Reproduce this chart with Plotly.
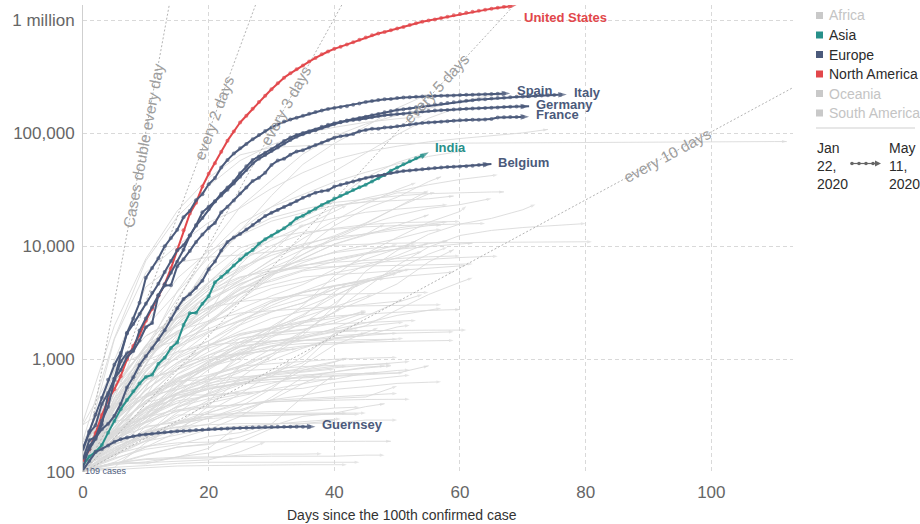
import math
import plotly.graph_objects as go

# ---------------- highlighted countries: daily cumulative confirmed cases ----------------
# index = days since the 100th confirmed case
united_states = [124, 158, 221, 319, 435, 541, 704, 994, 1301, 1630, 2183, 2770, 3613, 4596, 6344, 9197,
                 13779, 19367, 24192, 33592, 43505, 53938, 68211, 85570, 102900, 123966, 142191, 163893,
                 188172, 213372, 243616, 275366, 308853, 337072, 366667, 396223, 429052, 461437, 496535,
                 526396, 555313, 580619, 607670, 636350, 667592, 699706, 732197, 759086, 784326, 811865,
                 840351, 869170, 905358, 938154, 965785, 988197, 1012582, 1039909, 1069424, 1103461,
                 1132539, 1158040, 1180375, 1204351, 1229331, 1257023, 1283929, 1309550, 1329260, 1347881]
spain = [165, 222, 259, 400, 500, 673, 1073, 1695, 2277, 3146, 5232, 6391, 7798, 9942, 11748, 13910, 17963,
         20410, 25374, 28768, 35136, 39885, 49515, 57786, 65719, 73235, 80110, 87956, 95923, 104118, 112065,
         119199, 126168, 131646, 136675, 141942, 148220, 153222, 158273, 163027, 166831, 170099, 172541,
         177644, 182816, 188068, 191726, 195944, 198674, 200210, 204178, 205905, 207634, 209465, 210773,
         211500, 212917, 213435, 213900, 215216, 216582, 217466, 218011, 219329, 220325, 221447, 222857,
         223578, 224350]
italy = [155, 229, 322, 453, 655, 888, 1128, 1694, 2036, 2502, 3089, 3858, 4636, 5883, 7375, 9172, 10149,
         12462, 15113, 17660, 21157, 24747, 27980, 31506, 35713, 41035, 47021, 53578, 59138, 63927, 69176,
         74386, 80589, 86498, 92472, 97689, 101739, 105792, 110574, 115242, 119827, 124632, 128948, 132547,
         135586, 139422, 143626, 147577, 152271, 156363, 159516, 162488, 165155, 168941, 172434, 175925,
         178972, 181228, 183957, 187327, 189973, 192994, 195351, 197675, 199414, 201505, 203591, 205463,
         207428, 209328, 210717, 211938, 213013, 214457, 215858, 217185, 218268, 219070]
germany = [130, 159, 196, 262, 482, 670, 799, 1040, 1176, 1457, 1908, 2078, 3675, 4585, 5795, 7272, 9257,
           12327, 15320, 19848, 22213, 24873, 29056, 32986, 37323, 43938, 50871, 57695, 62095, 66885, 71808,
           77872, 84794, 91159, 96092, 100123, 103374, 107663, 113296, 118181, 122171, 124908, 127854,
           130072, 131359, 134753, 137698, 141397, 143342, 145184, 147065, 148291, 150648, 153129, 154999,
           156513, 157770, 158758, 159912, 161539, 163009, 164077, 164967, 165664, 166152, 167007, 168162,
           169430, 170588, 171324, 171879, 172576]
france = [130, 191, 204, 285, 377, 653, 949, 1126, 1209, 1784, 2281, 2876, 3661, 4469, 4499, 6633, 7652,
          9043, 10871, 12612, 14459, 16018, 19856, 22302, 25233, 29155, 32964, 37575, 40174, 44550, 52128,
          56989, 59105, 64338, 68605, 70478, 74390, 78167, 82048, 86334, 90676, 93790, 95403, 98076, 103573,
          106206, 108847, 109252, 111821, 112606, 114657, 117324, 119151, 120804, 122577, 124114, 124575,
          125770, 126835, 128339, 129581, 130185, 130979, 131287, 131863, 132967, 137150, 137779, 138421,
          138854, 139063, 139519]
india = [114, 137, 151, 173, 223, 283, 360, 433, 519, 606, 694, 724, 909, 1024, 1251, 1397, 1998, 2543,
         2567, 3082, 3588, 4778, 5311, 5916, 6725, 7598, 8446, 9205, 10453, 11487, 12322, 13430, 14352,
         15722, 17615, 18539, 20080, 21370, 23077, 24530, 26283, 27890, 29451, 31324, 33062, 34863, 37257,
         39699, 42505, 46437, 49400, 52987, 56351, 59695, 62808, 67161]
belgium = [109, 169, 200, 239, 267, 314, 399, 559, 689, 886, 1058, 1243, 1486, 1795, 2257, 2815, 3401, 3743,
           4269, 4937, 6235, 7284, 9134, 10836, 11899, 12775, 13964, 15348, 16770, 18431, 19691, 20814,
           22194, 23403, 24983, 26667, 28018, 29647, 30589, 31119, 33573, 34809, 36138, 37183, 38496, 39983,
           40956, 41889, 42797, 44293, 45325, 46134, 46687, 47334, 47859, 48519, 49032, 49517, 49906, 50267,
           50509, 50781, 51420, 52011, 52596, 53081]
guernsey = [104, 125, 150, 160, 172, 185, 195, 202, 207, 212, 215, 218, 222, 225, 227, 229, 231, 233, 235,
            237, 239, 240, 242, 243, 244, 245, 246, 248, 249, 250, 250, 251, 251, 252, 252, 252, 252, 252]

highlight_names = ["United States", "Spain", "Italy", "Germany", "France", "India", "Belgium", "Guernsey"]
highlight_series = [united_states, spain, italy, germany, france, india, belgium, guernsey]
highlight_region = ["North America", "Europe", "Europe", "Europe", "Europe", "Asia", "Europe", "Europe"]

# ---------------- other countries (grey): values every 5 days, last value at the last day ----------------
other_names = [
    "China", "Iran", "United Kingdom", "Russia", "Turkey", "Brazil", "Canada", "Peru", "Mexico", "Chile",
    "Saudi Arabia", "Netherlands", "Switzerland", "Sweden", "Austria", "Portugal", "Norway", "Denmark",
    "South Korea", "Japan", "Singapore", "Qatar", "Pakistan", "Belarus", "Ecuador", "Israel", "Ireland",
    "Poland", "Romania", "United Arab Emirates", "Indonesia", "Philippines", "Czechia", "Bangladesh",
    "Colombia", "South Africa", "Egypt", "Kuwait", "Serbia", "Ukraine", "Dominican Republic", "Panama",
    "Finland", "Argentina", "Luxembourg", "Greece", "Iceland", "Algeria", "Morocco", "Croatia", "Estonia",
    "Slovenia", "Lebanon", "Bahrain", "Thailand", "Malaysia", "Australia", "New Zealand", "Hungary",
    "Armenia", "Kazakhstan", "Moldova", "Afghanistan", "Oman", "Ghana", "Nigeria", "Cameroon", "Cuba",
    "Bolivia", "Honduras", "Bosnia and Herzegovina", "North Macedonia", "Bulgaria", "Lithuania", "Latvia",
    "Tunisia", "Costa Rica", "Uruguay", "Jordan", "Sri Lanka", "Vietnam", "Cyprus", "Albania", "Kyrgyzstan",
    "Senegal", "Cote d'Ivoire", "Kenya", "Iraq", "Georgia", "Guatemala", "Paraguay", "Andorra", "San Marino",
    "Faeroe Islands", "Jersey", "Isle of Man", "Gibraltar", "Taiwan", "Brunei", "Cambodia", "Mauritius",
    "Jamaica", "Trinidad and Tobago", "Malta", "Montenegro", "Azerbaijan", "Uzbekistan", "Burkina Faso",
    "Guinea", "Democratic Republic of Congo", "Djibouti", "Tanzania", "Sudan", "Mali", "Niger", "Venezuela",
    "El Salvador", "Haiti", "Somalia", "Kosovo", "Palestine", "Madagascar", "Ethiopia", "Gabon", "Rwanda",
    "Liberia", "Sierra Leone",
]
other_last_day = [
    112, 74, 67, 55, 54, 59, 61, 55, 53, 56,
    57, 66, 67, 65, 64, 59, 66, 62,
    81, 80, 72, 61, 55, 42, 55, 60, 58,
    58, 57, 55, 57, 58, 60, 35,
    53, 55, 58, 59, 53, 48, 50, 54,
    59, 52, 55, 60, 61, 50, 51, 53, 59,
    59, 55, 62, 57, 61, 62, 50, 51,
    54, 46, 48, 44, 46, 44, 42, 45, 44,
    41, 44, 51, 50, 52, 51, 52,
    50, 52, 52, 50, 48, 50, 49, 49, 42,
    47, 45, 38, 57, 40, 30, 40, 51, 57,
    49, 41, 42, 38, 52, 48, 44, 45,
    27, 42, 50, 44, 45, 45, 47,
    37, 42, 34, 25, 18, 33, 40, 48,
    33, 12, 24, 42, 44, 29, 24, 25, 40,
    24, 17,
]
other_values = [
    [278, 1975, 7711, 20438, 40171, 64000, 74576, 77262, 79394, 80565, 80904, 81048, 81250, 81661, 82122, 82543, 82883, 83213, 83805, 83884, 83944, 83966, 83990, 84011],
    [139, 1501, 5823, 10075, 16169, 21638, 32332, 44605, 58226, 68192, 76389, 83505, 89328, 94640, 100245, 107603],
    [116, 373, 1144, 3983, 9529, 22141, 38168, 65077, 93873, 120067, 143464, 165221, 190584, 215260, 223060],
    [114, 367, 1036, 2777, 6343, 13584, 27938, 52763, 80949, 114431, 165929, 221344],
    [191, 1529, 7402, 18135, 34109, 56956, 78546, 98674, 112261, 124375, 133721, 139771],
    [151, 621, 1924, 3904, 7910, 13717, 22169, 33682, 45757, 66501, 96559, 135106, 162699],
    [103, 424, 1302, 3409, 8527, 15756, 22148, 28379, 36831, 44919, 53236, 62046, 68848, 70091],
    [117, 363, 635, 1323, 2561, 6848, 12491, 17837, 25331, 40459, 54817, 67307],
    [118, 405, 993, 1688, 3181, 5014, 7497, 11633, 16752, 23471, 31522, 36327],
    [156, 537, 1306, 2738, 4471, 6501, 8273, 10088, 12306, 16023, 22016, 28866, 30063],
    [103, 274, 767, 1453, 2179, 3287, 5369, 9362, 15102, 21402, 27011, 37136, 41014],
    [128, 503, 1135, 2460, 4749, 8603, 12595, 16627, 21762, 26551, 30449, 34842, 38802, 41774, 42627],
    [114, 491, 1139, 2650, 6863, 12928, 17768, 21100, 24308, 25936, 27740, 29061, 29705, 30060, 30126],
    [137, 500, 961, 1279, 2046, 3447, 5568, 8419, 11445, 15322, 18640, 21520, 23216, 26322],
    [104, 504, 1018, 3024, 5888, 9618, 11781, 13244, 14041, 14795, 15148, 15452, 15621, 15833],
    [112, 448, 2060, 5170, 9034, 12442, 16585, 19685, 22797, 24505, 25282, 26182, 27679],
    [108, 598, 1256, 1742, 2621, 4284, 4863, 6010, 6525, 7113, 7338, 7660, 7904, 8099, 8106],
    [264, 827, 1151, 1724, 2860, 4077, 5635, 6681, 7695, 8698, 9356, 9938, 10429, 10591],
    [104, 977, 4335, 7134, 7979, 8320, 8897, 9661, 10156, 10450, 10591, 10683, 10752, 10780, 10822, 10840, 10874, 10909],
    [105, 186, 284, 488, 716, 839, 1101, 1724, 2617, 4257, 6748, 9787, 12388, 13736, 14571, 15253, 15798],
    [102, 130, 166, 226, 385, 683, 1049, 1623, 2918, 5992, 9125, 12693, 15641, 17548, 20939, 23336],
    [262, 401, 470, 537, 693, 949, 1832, 2979, 5448, 8525, 11921, 16191, 20201, 22520],
    [183, 646, 1201, 2039, 3766, 5230, 6383, 8418, 11940, 15759, 22049, 30941],
    [152, 562, 1066, 2919, 4779, 8022, 11289, 14917, 20168, 22973],
    [111, 789, 1595, 2302, 3747, 4965, 7603, 10128, 22719, 24675, 29538, 29559],
    [109, 298, 883, 2369, 4695, 7428, 10095, 12758, 14326, 15443, 16101, 16317, 16506],
    [129, 557, 1329, 2615, 4273, 6074, 9655, 15251, 17607, 19877, 21176, 22541, 23135],
    [103, 355, 901, 2055, 3383, 4848, 6934, 9287, 11273, 12877, 14431, 15651, 16326],
    [123, 308, 906, 2460, 4057, 6300, 8746, 10417, 11978, 12732, 13837, 15131, 15362],
    [113, 198, 468, 1264, 2076, 3736, 5825, 7755, 10349, 12481, 15192, 18878],
    [117, 450, 1046, 1677, 2491, 3842, 5516, 7135, 8882, 10118, 11587, 13645, 14032],
    [111, 230, 552, 1546, 3246, 4648, 5878, 6710, 7579, 8488, 9485, 10463, 11086],
    [116, 396, 1120, 2279, 3308, 4591, 5902, 6787, 7187, 7504, 7737, 8031, 8176],
    [123, 330, 1012, 2144, 3772, 5913, 8790, 15691],
    [102, 378, 702, 1161, 2054, 2776, 3621, 4561, 6207, 7668, 9456, 11063],
    [116, 402, 1187, 1462, 1845, 2415, 3158, 3953, 4996, 6783, 8232, 10652],
    [109, 210, 327, 576, 865, 1322, 1939, 2844, 3659, 4782, 6193, 8476, 9746],
    [100, 142, 191, 266, 417, 855, 1234, 1751, 2614, 3440, 4619, 7208, 9286],
    [103, 303, 785, 1624, 2666, 4465, 6318, 7483, 8724, 9464, 9943, 10243],
    [113, 356, 1072, 1668, 2511, 4161, 5710, 7647, 10406, 12697, 15648],
    [112, 581, 1284, 1956, 2759, 3755, 5044, 6135, 7288, 8480, 10347],
    [109, 313, 786, 1475, 2100, 3234, 4210, 4821, 5779, 6532, 7868, 8944],
    [155, 319, 700, 1041, 1446, 2176, 2974, 3868, 4395, 4906, 5327, 5673, 5880],
    [128, 387, 820, 1265, 1715, 2208, 2839, 3435, 4127, 4783, 5776, 6278],
    [140, 798, 1605, 2319, 2843, 3223, 3444, 3665, 3741, 3802, 3859, 3886],
    [117, 331, 464, 821, 1156, 1613, 1884, 2170, 2401, 2506, 2612, 2691, 2744],
    [103, 180, 409, 737, 1086, 1417, 1616, 1711, 1773, 1789, 1797, 1799, 1802, 1802],
    [139, 367, 716, 1320, 1761, 2160, 2629, 3127, 4154, 4838, 5723],
    [115, 275, 654, 1120, 1448, 2024, 3209, 3897, 4423, 5053, 5910, 6063],
    [105, 315, 713, 1011, 1343, 1650, 1832, 1981, 2047, 2096, 2146, 2196],
    [115, 267, 404, 645, 858, 1108, 1309, 1459, 1605, 1666, 1699, 1733, 1739],
    [141, 286, 480, 684, 897, 1091, 1205, 1304, 1360, 1408, 1434, 1450, 1460],
    [120, 248, 412, 479, 548, 618, 658, 682, 707, 725, 750, 870],
    [109, 210, 279, 377, 499, 643, 756, 925, 1671, 1973, 2723, 3720, 4774, 5236],
    [114, 411, 1136, 1771, 2169, 2551, 2672, 2792, 2907, 2954, 2992, 3015, 3017],
    [149, 553, 1306, 2031, 2908, 3793, 4530, 5305, 5603, 5780, 6071, 6383, 6656, 6726],
    [107, 298, 1071, 2364, 4093, 5330, 6010, 6400, 6565, 6667, 6746, 6849, 6929, 6941],
    [102, 451, 868, 1160, 1330, 1401, 1445, 1461, 1474, 1487, 1497],
    [103, 300, 525, 895, 1310, 1763, 2284, 2649, 2863, 3035, 3263, 3284],
    [115, 235, 424, 663, 853, 1013, 1291, 1523, 1867, 2386, 3175, 3718],
    [111, 302, 662, 802, 1295, 1995, 2601, 3138, 4422, 4975, 5126],
    [125, 298, 591, 1056, 1712, 2472, 3304, 3897, 4476, 4867, 5154],
    [110, 237, 423, 665, 933, 1279, 1828, 2469, 3563, 4687],
    [109, 192, 298, 546, 910, 1410, 1905, 2348, 2903, 3573, 3721],
    [141, 204, 313, 566, 641, 1042, 1550, 2074, 3091, 4700],
    [111, 232, 305, 407, 627, 1095, 1728, 2388, 3912, 4641],
    [139, 306, 650, 803, 1017, 1518, 1705, 1832, 2077, 2579],
    [119, 212, 457, 669, 862, 1137, 1437, 1537, 1729, 1783],
    [107, 183, 300, 493, 807, 1167, 1594, 2081, 2556, 2831],
    [110, 222, 312, 426, 472, 591, 702, 1055, 1685, 2080],
    [104, 248, 533, 858, 1083, 1300, 1421, 1565, 1757, 1950, 2089, 2117],
    [114, 241, 430, 570, 854, 1207, 1367, 1465, 1539, 1622, 1694],
    [127, 220, 359, 503, 635, 800, 975, 1247, 1506, 1618, 1921, 1990],
    [105, 274, 537, 811, 1026, 1128, 1298, 1370, 1398, 1438, 1505, 1523],
    [111, 221, 376, 493, 577, 661, 739, 778, 836, 879, 930, 950],
    [114, 312, 455, 623, 726, 866, 909, 949, 994, 1018, 1032],
    [113, 201, 347, 454, 539, 618, 662, 693, 713, 742, 792, 801],
    [110, 217, 338, 406, 473, 502, 528, 550, 620, 656, 707, 719],
    [112, 235, 274, 345, 372, 397, 417, 435, 449, 461, 576],
    [102, 122, 166, 197, 238, 310, 460, 690, 771, 847, 869],
    [113, 163, 222, 251, 262, 268, 268, 270, 271, 288, 288],
    [116, 230, 356, 494, 662, 784, 817, 857, 878, 898, 905],
    [104, 197, 277, 377, 446, 518, 609, 712, 773, 832, 872],
    [107, 216, 298, 449, 612, 682, 746, 830, 949, 1016],
    [105, 175, 226, 265, 299, 377, 545, 882, 1329, 1709, 1886],
    [101, 190, 323, 533, 688, 878, 1111, 1275, 1516, 1700],
    [122, 179, 197, 234, 303, 355, 435, 607, 715],
    [110, 192, 316, 630, 961, 1279, 1415, 1602, 1820, 2085, 2431, 2679, 2818],
    [110, 188, 272, 348, 408, 470, 539, 604, 677],
    [126, 180, 257, 385, 599, 763, 1052],
    [104, 133, 159, 174, 206, 223, 266, 462, 724],
    [113, 224, 370, 501, 583, 646, 696, 723, 738, 748, 754, 754],
    [101, 144, 208, 236, 266, 344, 435, 476, 538, 569, 608, 623, 628],
    [118, 144, 169, 181, 184, 185, 185, 187, 187, 187, 187],
    [100, 155, 187, 214, 243, 255, 264, 279, 293, 295],
    [114, 150, 218, 270, 297, 309, 316, 321, 330, 331],
    [103, 120, 129, 132, 133, 141, 144, 144, 145],
    [108, 235, 306, 355, 382, 393, 420, 427, 429, 438, 440, 440],
    [104, 120, 131, 135, 136, 138, 138, 138, 138, 141, 141],
    [103, 110, 114, 119, 122, 122, 122, 122, 122, 122],
    [102, 154, 227, 319, 324, 328, 331, 332, 332, 332],
    [105, 173, 233, 305, 432, 490, 502],
    [103, 105, 109, 113, 114, 115, 116, 116, 116, 116],
    [107, 139, 188, 241, 337, 393, 431, 448, 464, 484, 496],
    [104, 201, 248, 283, 311, 315, 322, 324, 324, 324],
    [122, 298, 584, 926, 1253, 1518, 1678, 1804, 2204, 2693],
    [104, 227, 457, 815, 1302, 1678, 1904, 2086, 2298, 2612],
    [114, 222, 364, 443, 542, 600, 629, 645, 662, 751, 751],
    [111, 212, 363, 579, 954, 1351, 1710, 2146, 2298],
    [109, 161, 223, 267, 332, 416, 572, 797, 937, 1024],
    [121, 187, 363, 732, 986, 1112, 1189, 1227],
    [147, 284, 299, 480, 480, 509],
    [140, 275, 592, 930, 1164],
    [105, 148, 216, 370, 490, 612, 692, 704],
    [120, 253, 491, 639, 657, 696, 719, 763, 815],
    [106, 119, 143, 166, 175, 204, 256, 311, 331, 379, 402],
    [103, 159, 201, 274, 345, 490, 742, 930],
    [101, 110, 182, 209],
    [116, 286, 480, 601, 835, 1054],
    [106, 145, 283, 449, 562, 601, 761, 799, 861, 862],
    [104, 134, 254, 274, 308, 335, 342, 343, 368, 375],
    [102, 121, 121, 124, 128, 151, 184],
    [105, 116, 123, 135, 162, 239],
    [108, 167, 211, 335, 504, 863],
    [104, 120, 118, 136, 147, 183, 243, 268, 285],
    [101, 117, 141, 166, 178, 199],
    [104, 155, 225, 250, 257],
]

# ---------------- legend / reference lines / axes ----------------
region_names = ["Africa", "Asia", "Europe", "North America", "Oceania", "South America"]
region_active = [False, True, True, True, False, False]
doubling_days = [1, 2, 3, 5, 10]
doubling_labels = ["Cases double every day", "every 2 days", "every 3 days", "every 5 days", "every 10 days"]
doubling_label_day = [9.6, 20.8, 32.3, 56.3, 93.0]
y_tick_vals = [100, 1000, 10000, 100000, 1000000]
y_tick_text = ["100", "1,000", "10,000", "100,000", "1 million"]
x_tick_vals = [0, 20, 40, 60, 80, 100]
date_start_label = "Jan<br>22,<br>2020"
date_end_label = "May<br>11,<br>2020"

# ---------------- styling ----------------
COL = {"North America": "#e2474b", "Europe": "#4b5a7b", "Asia": "#27908a"}
INACTIVE = "#c9c9c9"
GREY_LINE = "#dadada"
FONT = "Liberation Sans, Arial, Helvetica, sans-serif"

W, H = 920, 524
ML, MR, MT, MB = 83, 127, 5, 52
PW, PH = W - ML - MR, H - MT - MB
X_MAX = 113
DECADE_PX = 113.0
Y_LOG_MIN = 2.0
Y_LOG_MAX = Y_LOG_MIN + PH / DECADE_PX
PX_PER_DAY = PW / X_MAX


def px_x(px):
    return (px - ML) / PW


def px_y(py):
    return (H - MB - py) / PH


fig = go.Figure()

# grey countries
for name, last_day, vals in zip(other_names, other_last_day, other_values):
    days = list(range(0, last_day, 5)) + [last_day]
    n = min(len(days), len(vals))
    days, vals = days[:n], vals[:n]
    fig.add_trace(go.Scatter(
        x=days, y=vals, mode="lines+markers", name=name,
        line=dict(color=GREY_LINE, width=0.9),
        marker=dict(symbol=["circle"] * (n - 1) + ["arrow"], size=[0] * (n - 1) + [5],
                    color=GREY_LINE, angleref="previous", line=dict(width=0)),
        hoverinfo="skip", showlegend=False))

# doubling reference lines
for d in doubling_days:
    x_end = min(X_MAX, d * math.log2(10 ** (Y_LOG_MAX - 2)))
    fig.add_trace(go.Scatter(
        x=[0, x_end], y=[100, 100 * 2 ** (x_end / d)], mode="lines",
        line=dict(color="#b4b4b4", width=1, dash="2px,2px"),
        hoverinfo="skip", showlegend=False))

# highlighted countries
for name, vals, reg in zip(highlight_names, highlight_series, highlight_region):
    n = len(vals)
    c = COL[reg]
    fig.add_trace(go.Scatter(
        x=list(range(n)), y=vals, mode="lines+markers", name=name,
        line=dict(color=c, width=2),
        marker=dict(symbol=["circle"] * (n - 1) + ["arrow"], size=[4] * (n - 1) + [9],
                    color=c, angleref="previous", line=dict(width=0)),
        showlegend=False))

annotations = []
shapes = []

# country labels
label_shift = {"United States": (5, -12), "Spain": (5, 3), "Italy": (5, 2), "Germany": (5, 2),
               "France": (5, 2), "India": (4, 5), "Belgium": (5, 2), "Guernsey": (5, 2)}
for name, vals, reg in zip(highlight_names, highlight_series, highlight_region):
    dx, dy = label_shift[name]
    annotations.append(dict(
        x=len(vals) - 1, y=math.log10(vals[-1]), xref="x", yref="y", text="<b>%s</b>" % name,
        showarrow=False, xanchor="left", yanchor="middle", xshift=dx, yshift=dy,
        font=dict(family=FONT, size=13, color=COL[reg])))

annotations.append(dict(
    x=0, y=math.log10(100), xref="x", yref="y", text="%d cases" % belgium[0], showarrow=False,
    xanchor="left", yanchor="middle", xshift=0, yshift=1,
    font=dict(family=FONT, size=9, color=COL["Europe"])))

# doubling labels
for d, lab, xc in zip(doubling_days, doubling_labels, doubling_label_day):
    slope_px = (DECADE_PX * math.log10(2) / d) / PX_PER_DAY
    ang = math.degrees(math.atan(slope_px))
    annotations.append(dict(
        x=xc, y=2 + xc / d * math.log10(2), xref="x", yref="y", text=lab, showarrow=False,
        textangle=-ang, xanchor="center", yanchor="middle",
        font=dict(family=FONT, size=15.5, color="#9d9d9d")))

# x axis title
annotations.append(dict(
    x=px_x(402), y=px_y(515), xref="paper", yref="paper", text="Days since the 100th confirmed case",
    showarrow=False, xanchor="center", yanchor="middle",
    font=dict(family=FONT, size=14, color="#333333")))

# custom legend
for i, (reg, active) in enumerate(zip(region_names, region_active)):
    cy = 15.5 + i * 19.5
    shapes.append(dict(type="rect", xref="paper", yref="paper",
                       x0=px_x(816), x1=px_x(823), y0=px_y(cy + 3.5), y1=px_y(cy - 3.5),
                       fillcolor=COL[reg] if active else INACTIVE, line=dict(width=0)))
    annotations.append(dict(
        x=px_x(827), y=px_y(cy), xref="paper", yref="paper", text=reg, showarrow=False,
        xanchor="left", yanchor="middle",
        font=dict(family=FONT, size=14, color="#2b2b2b" if active else "#c4c4c4")))

shapes.append(dict(type="line", xref="paper", yref="paper", x0=px_x(816), x1=px_x(915),
                   y0=px_y(128), y1=px_y(128), line=dict(color="#cfcfcf", width=1)))

annotations.append(dict(x=px_x(815), y=px_y(138), xref="paper", yref="paper", text=date_start_label,
                        showarrow=False, xanchor="left", yanchor="top", align="left",
                        font=dict(family=FONT, size=14, color="#2b2b2b")))
annotations.append(dict(x=px_x(887), y=px_y(138), xref="paper", yref="paper", text=date_end_label,
                        showarrow=False, xanchor="left", yanchor="top", align="left",
                        font=dict(family=FONT, size=14, color="#2b2b2b")))

# small timeline glyph between the dates
shapes.append(dict(type="line", xref="paper", yref="paper", x0=px_x(851), x1=px_x(876),
                   y0=px_y(163.5), y1=px_y(163.5), line=dict(color="#666666", width=1.2)))
for cx in (852, 859, 866, 873):
    shapes.append(dict(type="circle", xref="paper", yref="paper",
                       x0=px_x(cx - 1.8), x1=px_x(cx + 1.8), y0=px_y(163.5 + 1.8), y1=px_y(163.5 - 1.8),
                       fillcolor="#666666", line=dict(width=0)))
shapes.append(dict(type="path", xref="paper", yref="paper",
                   path="M %f %f L %f %f L %f %f Z" % (px_x(875), px_y(160.5), px_x(881), px_y(163.5),
                                                       px_x(875), px_y(166.5)),
                   fillcolor="#666666", line=dict(width=0)))

fig.update_layout(
    width=W, height=H,
    margin=dict(l=ML, r=MR, t=MT, b=MB, pad=0),
    paper_bgcolor="white", plot_bgcolor="white",
    font=dict(family=FONT),
    showlegend=False,
    hovermode=False,
    annotations=annotations,
    shapes=shapes,
)
fig.update_xaxes(
    range=[0, X_MAX], tickvals=x_tick_vals, ticktext=[str(v) for v in x_tick_vals],
    showgrid=True, gridcolor="#d9d9d9", griddash="4px,3px", gridwidth=1,
    zeroline=False, showline=False, ticks="", ticklabelstandoff=8,
    tickfont=dict(family=FONT, size=17, color="#666666"),
)
fig.update_yaxes(
    type="log", range=[Y_LOG_MIN, Y_LOG_MAX], tickvals=y_tick_vals, ticktext=y_tick_text,
    showgrid=True, gridcolor="#d9d9d9", griddash="4px,3px", gridwidth=1,
    zeroline=False, showline=True, linecolor="#cfcfcf", linewidth=1, ticks="", ticklabelstandoff=4,
    tickfont=dict(family=FONT, size=17, color="#666666"),
)

fig.write_html("out.html", config={"displayModeBar": False, "staticPlot": True},
               post_script="document.body.style.margin='0';document.body.style.overflow='hidden';")
